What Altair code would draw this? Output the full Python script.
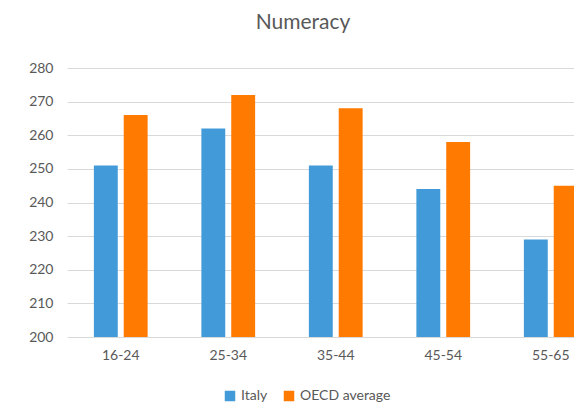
import altair as alt
import pandas as pd

categories = ["16-24", "25-34", "35-44", "45-54", "55-65"]
italy = [251, 262, 251, 244, 229]
oecd = [266, 272, 268, 258, 245]
series = ["Italy", "OECD average"]

rows = []
for c, a, b in zip(categories, italy, oecd):
    rows.append({"age": c, "series": "Italy", "value": a})
    rows.append({"age": c, "series": "OECD average", "value": b})
df = pd.DataFrame(rows)

FONT = "Lato"
GRAY = "#595959"

chart = alt.Chart(df).mark_bar(clip=True).encode(
    x=alt.X("age:N", sort=categories, title=None,
            scale=alt.Scale(paddingInner=0.5, paddingOuter=0.25, range=[0, 537.5]),
            axis=alt.Axis(labelAngle=0, ticks=False, domain=False, labelPadding=11,
                          labelFontSize=14, labelColor=GRAY, labelFont=FONT)),
    xOffset=alt.XOffset("series:N", sort=series, scale=alt.Scale(paddingInner=0.2)),
    y=alt.Y("value:Q", title=None,
            scale=alt.Scale(domain=[200, 280], zero=False, nice=False),
            axis=alt.Axis(values=list(range(200, 281, 10)), ticks=False, domain=False,
                          labelPadding=14, labelFontSize=14, labelColor=GRAY, labelFont=FONT,
                          gridColor="#D9D9D9", gridWidth=1.2)),
    y2=alt.datum(200),
    color=alt.Color("series:N", sort=series, title=None,
                    scale=alt.Scale(domain=series, range=["#429BD8", "#FF7A00"]),
                    legend=alt.Legend(orient="none", legendX=156, legendY=321, direction="horizontal",
                                      symbolType="square", symbolSize=110, labelFontSize=14,
                                      labelColor=GRAY, labelFont=FONT, columnPadding=14,
                                      symbolStrokeWidth=0)),
).properties(
    width=507, height=269,
    title=alt.TitleParams("Numeracy", fontSize=21, color=GRAY, font=FONT, fontWeight="normal",
                          anchor="start", dx=227, offset=28),
    autosize=alt.AutoSizeParams(type="none"),
    padding={"left": 59, "top": 60, "right": 0, "bottom": 67},
).configure_view(stroke=None)

chart.save("out.html", embed_options={"renderer": "svg", "actions": False})
